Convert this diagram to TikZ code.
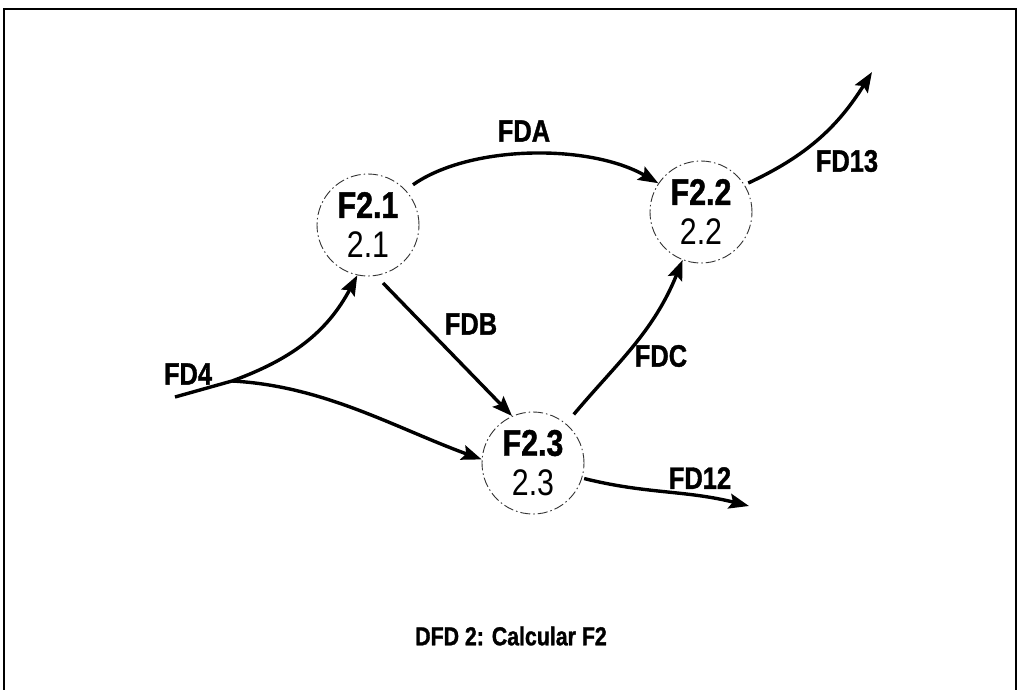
\documentclass[tikz,border=0pt]{standalone}
\usepackage{fontspec}
\setmainfont{Liberation Sans}[FakeStretch=0.82,BoldFeatures={FakeBold=1.2}]
\usetikzlibrary{arrows.meta}
\begin{document}
\begin{tikzpicture}[x=1pt,y=-1pt,
  proc/.style={circle,draw=black!80,line width=0.9pt,
    dash pattern=on 10pt off 3pt on 1.5pt off 3pt,
    minimum size=102pt,inner sep=0pt,align=center,
    font=\fontsize{37}{40}\selectfont},
  flow/.style={line width=3.4pt,
    -{Stealth[length=20pt,width=15pt,inset=3.5pt]}},
  lbl/.style={font=\fontsize{31}{34}\selectfont\bfseries,inner sep=0pt}]
\useasboundingbox (0,0) rectangle (1020,689);
% frame
\draw[line width=2.8pt] (4,692) -- (4,9) -- (1016,9) -- (1016,692);
% processes
\node[proc] (F21) at (368,225) {\textbf{F2.1}\\2.1};
\node[proc] (F22) at (701,212) {\textbf{F2.2}\\2.2};
\node[proc] (F23) at (533,463) {\textbf{F2.3}\\2.3};
% free ends
\coordinate (fd4s) at (175,397);
\coordinate (fd4j) at (232,381);
\coordinate (fd13e) at (872,72);
\coordinate (fd12e) at (749,506);
% flows
\draw[line width=3.4pt] (fd4s) -- (fd4j);
\draw[flow] (fd4j) to[out=20,in=-118,looseness=1] (F21.-102);
\draw[flow] (fd4j) to[out=-3,in=160,looseness=0.9] (F23.176);
\draw[flow,shorten <=9pt] (F21.43) to[out=35,in=150,looseness=0.8] (F22.146);
\draw[flow,shorten <=10pt] (F21.-81) -- (F23.114);
\draw[flow,shorten <=12pt] (F23.50) to[out=50,in=-112] (F22.-111);
\draw[flow,shorten <=4pt] (F22.32) to[out=25,in=-122] (fd13e);
\draw[flow,shorten <=2pt] (F23.-17) to[out=-14,in=166] (fd12e);
% labels
\node[lbl] (lFDA) at (524,131) {FDA};
\node[lbl] (lFDB) at (471,324) {FDB};
\node[lbl] (lFDC) at (661,356) {FDC};
\node[lbl] (lFD4) at (188,374) {FD4};
\node[lbl] (lFD13) at (847,161) {FD13};
\node[lbl] (lFD12) at (700,478) {FD12};
\node[font=\fontsize{26}{30}\selectfont\bfseries,inner sep=0pt] (title) at (511,636) {DFD 2: Calcular F2};
\end{tikzpicture}
\end{document}
